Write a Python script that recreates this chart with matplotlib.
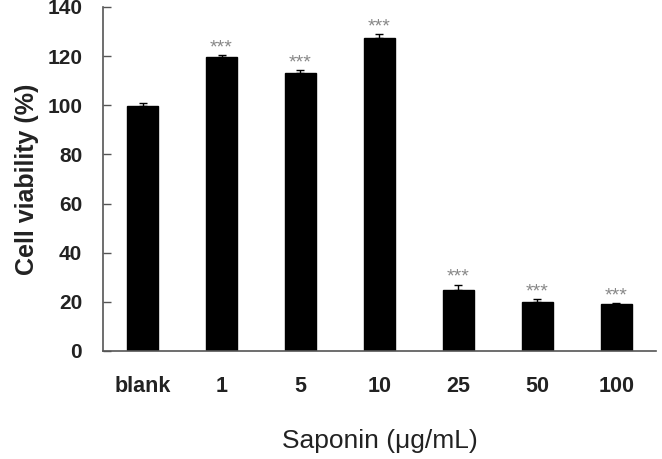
import matplotlib
matplotlib.use("Agg")
import matplotlib.pyplot as plt

categories = ["blank", "1", "5", "10", "25", "50", "100"]
viability = [99.5, 119.5, 113.0, 127.5, 25.0, 20.0, 19.0]
errors = [1.5, 0.8, 1.2, 1.5, 2.0, 1.0, 0.5]
marks = ["", "***", "***", "***", "***", "***", "***"]

plt.rcParams["font.family"] = ["Liberation Sans", "DejaVu Sans"]

fig = plt.figure(figsize=(6.62, 4.59), dpi=100)
ax = fig.add_axes([0.1556, 0.2353, 0.8353, 0.7495])

x = range(len(categories))
ax.bar(x, viability, width=0.4, color="black", edgecolor="black",
       yerr=[[0] * len(errors), errors], capsize=3,
       error_kw=dict(ecolor="black", elinewidth=1, capthick=1))

for i, (v, e, m) in enumerate(zip(viability, errors, marks)):
    if m:
        ax.text(i, v + e + 1.2, m, ha="center", va="baseline",
                fontsize=14, color="#888888")

ax.set_xlim(-0.5, len(categories) - 0.5)
ax.set_ylim(0, 140)
ax.set_yticks(range(0, 141, 20))
ax.set_xticks(list(x))
ax.set_xticklabels(categories, fontsize=15.5, fontweight="bold", color="#222222")
ax.tick_params(axis="x", length=0, pad=18)
ax.tick_params(axis="y", direction="in", length=6, width=1, pad=15,
               labelsize=15, color="#555555", labelcolor="#222222")
for lbl in ax.get_yticklabels():
    lbl.set_fontweight("bold")

for s in ["top", "right"]:
    ax.spines[s].set_visible(False)
for s in ["left", "bottom"]:
    ax.spines[s].set_color("#555555")
    ax.spines[s].set_linewidth(1.2)

ax.set_xlabel("Saponin (\u03bcg/mL)", fontsize=19, labelpad=23, color="#222222")
ax.set_ylabel("Cell viability (%)", fontsize=18, fontweight="bold",
              labelpad=6, color="#222222")

fig.savefig("out.png", dpi=100)
